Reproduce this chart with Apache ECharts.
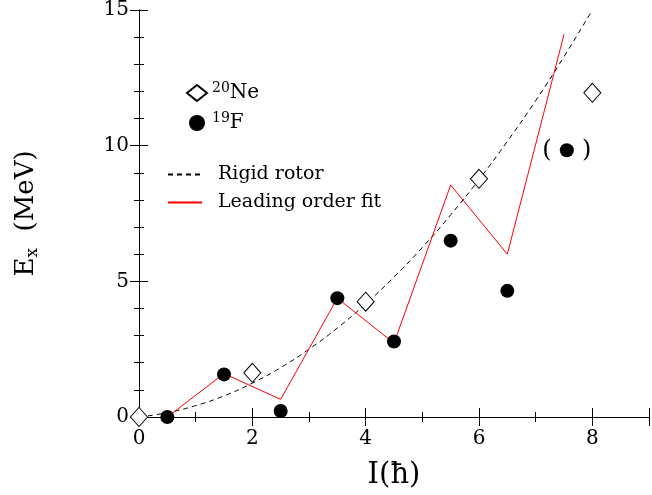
<!DOCTYPE html>
<html>
<head>
<meta charset="utf-8">
<script src="https://cdn.jsdelivr.net/npm/echarts@6/dist/echarts.min.js"></script>
<style>
  html, body { margin: 0; padding: 0; background: #fff; }
  #chart { width: 652px; height: 495px; }
</style>
</head>
<body>
<div id="chart"></div>
<script>
// 20Ne levels (open diamonds)
const neSpin = [0, 2, 4, 6, 8];
const neEnergy = [0, 1.63, 4.25, 8.78, 11.95];

// 19F levels (filled circles), last one in brackets
const fSpin = [0.5, 1.5, 2.5, 3.5, 4.5, 5.5, 6.5, 7.55];
const fEnergy = [0, 1.57, 0.22, 4.38, 2.78, 6.5, 4.65, 9.83];

// leading order fit (red)
const fitSpin = [0.5, 1.5, 2.5, 3.5, 4.5, 5.5, 6.5, 7.5];
const fitEnergy = [0, 1.6, 0.65, 4.38, 2.72, 8.55, 6.0, 14.1];

// rigid rotor (dashed)
const rotSpin = [0, 0.5, 1, 1.5, 2, 2.5, 3, 3.5, 4, 4.5, 5, 5.5, 6, 6.5, 7, 7.5, 8];
const rotEnergy = [0, 0.16, 0.42, 0.78, 1.25, 1.82, 2.5, 3.28, 4.17, 5.16, 6.25, 7.45, 8.75, 10.16, 11.66, 13.28, 15.0];

const xTicks = [0, 2, 4, 6, 8];
const yTicks = [0, 5, 10, 15];

const font = 'DejaVu Serif';
const zip = (a, b) => a.map((v, i) => [v, b[i]]);

const chart = echarts.init(document.getElementById('chart'));

const tickCommon = {
  axisLine: { lineStyle: { color: '#000', width: 1 } },
  axisTick: { inside: true, length: 9, lineStyle: { color: '#000' } },
  splitLine: { show: false }
};
const xMinor = { minorTick: { show: true, splitNumber: 2, length: 5, lineStyle: { color: '#000' } } };
const yMinor = { minorTick: { show: true, splitNumber: 5, length: 5, lineStyle: { color: '#000' } } };

// the bracketed 19F point gets "( )" around it
const fData = zip(fSpin, fEnergy).map((p, i) => {
  if (i === fSpin.length - 1) {
    return {
      value: p,
      label: {
        show: true, position: 'inside', formatter: '(    )',
        color: '#000', fontFamily: font, fontSize: 24
      }
    };
  }
  return p;
});

chart.setOption({
  animation: false,
  backgroundColor: '#fff',
  grid: { left: 139, right: 1, top: 8, bottom: 78 },
  xAxis: [
    Object.assign({
      type: 'value', min: 0, max: 9, interval: 2,
      name: 'I(ħ)', nameLocation: 'middle', nameGap: 44,
      nameTextStyle: { fontFamily: font, fontSize: 29, color: '#000' },
      axisLabel: {
        margin: 12, fontFamily: font, fontSize: 20, color: '#000',
        formatter: v => (xTicks.indexOf(v) >= 0 ? String(v) : '')
      }
    }, tickCommon, xMinor),
    Object.assign({
      type: 'value', min: 0, max: 9, interval: 2, position: 'top',
      axisLabel: { show: false }
    }, tickCommon, xMinor)
  ],
  yAxis: [
    Object.assign({
      type: 'value', min: 0, max: 15, interval: 5,
      name: '{e|E}{s|x}{e|  (MeV)}', nameLocation: 'middle', nameGap: 98, nameRotate: 90,
      nameTextStyle: {
        color: '#000',
        rich: {
          e: { fontFamily: font, fontSize: 26, color: '#000' },
          s: { fontFamily: font, fontSize: 17, color: '#000', verticalAlign: 'bottom', padding: [12, 0, 0, 0] }
        }
      },
      axisLabel: {
        margin: 10, fontFamily: font, fontSize: 20, color: '#000',
        formatter: v => (yTicks.indexOf(v) >= 0 ? String(v) : '')
      }
    }, tickCommon, yMinor),
    Object.assign({
      type: 'value', min: 0, max: 15, interval: 5, position: 'right',
      axisLabel: { show: false }
    }, tickCommon, yMinor)
  ],
  legend: [
    {
      orient: 'vertical', left: 181, top: 76, itemGap: 8,
      itemWidth: 20, itemHeight: 16,
      data: ['20Ne', '19F'],
      formatter: n => n === '20Ne' ? '{s|20}{t|Ne}' : '{s|19}{t|F}',
      textStyle: {
        color: '#000',
        rich: {
          s: { fontFamily: font, fontSize: 14, color: '#000', verticalAlign: 'top', padding: [0, 0, 10, 0] },
          t: { fontFamily: font, fontSize: 20, color: '#000' }
        }
      }
    },
    {
      orient: 'vertical', left: 162, top: 160, itemGap: 9,
      itemWidth: 34, itemHeight: 16,
      data: ['Rigid rotor', 'Leading order fit'],
      itemStyle: { opacity: 0 },
      textStyle: { fontFamily: font, fontSize: 19, color: '#000', padding: [0, 0, 0, 11] }
    }
  ],
  series: [
    {
      name: 'Rigid rotor', type: 'line', smooth: true, symbol: 'none',
      data: zip(rotSpin, rotEnergy),
      lineStyle: { color: '#000', width: 1, type: [5, 4] },
      itemStyle: { color: '#000' },
      z: 2
    },
    {
      name: 'Leading order fit', type: 'line', symbol: 'none',
      data: zip(fitSpin, fitEnergy),
      lineStyle: { color: '#ff0000', width: 1 },
      itemStyle: { color: '#ff0000' },
      z: 3
    },
    {
      name: '20Ne', type: 'scatter', symbol: 'diamond', symbolSize: [17, 19],
      data: zip(neSpin, neEnergy),
      itemStyle: { color: '#fff', borderColor: '#000', borderWidth: 1, opacity: 1 },
      z: 4
    },
    {
      name: '19F', type: 'scatter', symbol: 'circle', symbolSize: 14,
      data: fData,
      itemStyle: { color: '#000', opacity: 1 },
      z: 5
    }
  ]
});
</script>
</body>
</html>
